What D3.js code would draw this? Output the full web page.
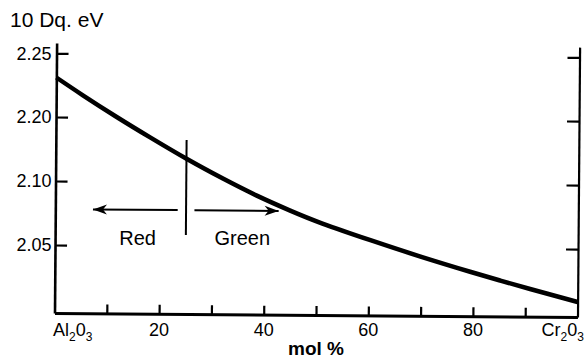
<!DOCTYPE html>
<html>
    <head>
        <script src="https://cdn.jsdelivr.net/npm/d3@7"></script>
        <style>
            body { margin: 0; background: white; }
            text { font-family: 'Liberation Sans', Arial, sans-serif; fill: black; }
            .tick-label { font-size: 18px; }
            .note { font-size: 20px; }
        </style>
    </head>
    <body>
        <svg id='canvas' width=584 height=361></svg>
        <script>
            // curve: mol % Cr2O3 against 10 Dq (eV)
            const molPct = [0, 5.1, 11.6, 18.1, 25.1, 32, 38.5, 44.8, 51.1, 60.3, 69.9, 79.4, 85.2, 90.9, 100]
            const tenDq = [2.2310, 2.2172, 2.2004, 2.1689, 2.1359, 2.1058, 2.0898, 2.0785, 2.0684, 2.0557, 2.0432, 2.0317, 2.0250, 2.0186, 2.0088]

            // y axis as printed (labels are evenly spaced, not evenly valued)
            const yTicks = [2.25, 2.20, 2.10, 2.05]
            const yTickLabels = ['2.25', '2.20', '2.10', '2.05']
            const yEnds = [1.997, 2.258]

            const xMinorTicks = [10, 20, 30, 40, 50, 60, 70, 80, 90]
            const xLabelTicks = [0, 20, 40, 60, 80, 100]
            // [text, subscript?] pieces for each label
            const xTickLabels = [
                [['Al', false], ['2', true], ['0', false], ['3', true]],
                [['20', false]],
                [['40', false]],
                [['60', false]],
                [['80', false]],
                [['Cr', false], ['2', true], ['0', false], ['3', true]]
            ]

            // red / green boundary and the two arrows
            const boundaryMol = 25
            const boundaryDq = [2.1656, 2.0586]
            const arrowDq = 2.078
            const redArrowMol = [23.4, 7.2]
            const greenArrowMol = [26.6, 42.7]
            const notes = [
                { text: 'Red', mol: 15.9 },
                { text: 'Green', mol: 35.9 }
            ]
            const noteDq = 2.05

            const svg = d3.select('#canvas')

            const x = d3.scaleLinear().domain([0, 100]).range([54.5, 577.5])
            const y = d3.scaleLinear()
                .domain([yEnds[0], 2.05, 2.10, 2.20, 2.25, yEnds[1]])
                .range([313, 245, 181, 117, 53.3, 43])

            svg.append('defs').append('marker')
                .attr('id', 'head')
                .attr('markerUnits', 'userSpaceOnUse')
                .attr('viewBox', '0 0 16 12')
                .attr('markerWidth', 16)
                .attr('markerHeight', 12)
                .attr('refX', 15)
                .attr('refY', 6)
                .attr('orient', 'auto')
                .append('path')
                    .attr('d', 'M1,1 L15,6 L1,11 L5,6 Z')
                    .attr('fill', 'black')

            // the scan is tilted a little, so the line work gets a small rotation
            const plot = svg.append('g')
                .attr('transform', `rotate(0.45, ${x(0)}, ${y(yEnds[0])})`)

            const left = plot.append('g')
                .attr('transform', `translate(${x(0)}, 0)`)
                .call(d3.axisLeft(y).tickValues(yTicks).tickSize(-12).tickSizeOuter(0).tickFormat(''))
            const right = plot.append('g')
                .attr('transform', `translate(${x(100)}, 0)`)
                .call(d3.axisLeft(y).tickValues(yTicks).tickSize(12).tickSizeOuter(0).tickFormat(''))
            const bottom = plot.append('g')
                .attr('transform', `translate(0, ${y(yEnds[0])})`)
                .call(d3.axisBottom(x).tickValues(xMinorTicks).tickSize(-9).tickSizeOuter(0).tickFormat(''))

            left.select('.domain').attr('stroke-width', 2.6)
            right.select('.domain').attr('stroke-width', 2.2)
            bottom.select('.domain').attr('stroke-width', 3)
            plot.selectAll('.tick line').attr('stroke-width', 2.2)

            const points = molPct.map((m, i) => [m, tenDq[i]])
            const line = d3.line()
                .x(d => x(d[0]))
                .y(d => y(d[1]))
                .curve(d3.curveNatural)

            plot.append('path')
                .datum(points)
                .attr('d', line)
                .attr('fill', 'none')
                .attr('stroke', 'black')
                .attr('stroke-width', 4.5)

            plot.append('line')
                .attr('x1', x(boundaryMol)).attr('x2', x(boundaryMol))
                .attr('y1', y(boundaryDq[0])).attr('y2', y(boundaryDq[1]))
                .attr('stroke', 'black')
                .attr('stroke-width', 2)

            plot.selectAll('.arrow')
                .data([redArrowMol, greenArrowMol])
                .enter()
                .append('line')
                    .attr('class', 'arrow')
                    .attr('x1', d => x(d[0]))
                    .attr('x2', d => x(d[1]))
                    .attr('y1', y(arrowDq))
                    .attr('y2', y(arrowDq))
                    .attr('stroke', 'black')
                    .attr('stroke-width', 2)
                    .attr('marker-end', 'url(#head)')

            // texts
            svg.append('g').selectAll('text')
                .data(yTicks)
                .enter()
                .append('text')
                    .classed('tick-label', true)
                    .attr('x', x(0) - 3)
                    .attr('y', d => y(d))
                    .attr('dy', '0.35em')
                    .attr('text-anchor', 'end')
                    .text((d, i) => yTickLabels[i])

            const xl = svg.append('g').selectAll('text')
                .data(xLabelTicks)
                .enter()
                .append('text')
                    .classed('tick-label', true)
                    .attr('x', (d, i) => i === 0 ? x(d) - 1.5 : i === xLabelTicks.length - 1 ? x(d) + 6.5 : x(d))
                    .attr('y', 335.5)
                    .attr('text-anchor', (d, i) => i === 0 ? 'start' : i === xLabelTicks.length - 1 ? 'end' : 'middle')

            xl.each(function (d, i) {
                const t = d3.select(this)
                xTickLabels[i].forEach(([s, sub], j) => {
                    const prevSub = j > 0 && xTickLabels[i][j - 1][1]
                    t.append('tspan')
                        .attr('dy', sub ? 5 : (prevSub ? -5 : 0))
                        .attr('font-size', sub ? 12 : null)
                        .text(s)
                })
            })

            svg.append('text')
                .attr('x', (x(0) + x(100)) / 2)
                .attr('y', 355)
                .attr('text-anchor', 'middle')
                .attr('font-size', 19)
                .attr('font-weight', 'bold')
                .text('mol %')

            svg.append('text')
                .attr('x', 10)
                .attr('y', 27)
                .attr('font-size', 21)
                .text('10 Dq. eV')

            svg.append('g').selectAll('text')
                .data(notes)
                .enter()
                .append('text')
                    .classed('note', true)
                    .attr('x', d => x(d.mol))
                    .attr('y', y(noteDq))
                    .attr('text-anchor', 'middle')
                    .text(d => d.text)
        </script>
    </body>
</html>
